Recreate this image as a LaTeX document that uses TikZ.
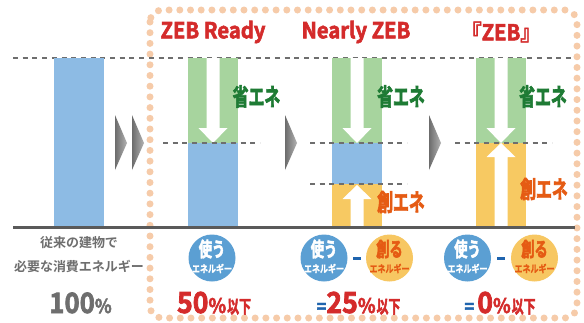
\documentclass[tikz,border=0pt]{standalone}
\usepackage{fontspec}
\newfontfamily\jpb{Noto Sans CJK JP}[UprightFont=* Bold]
\newfontfamily\jph{Noto Sans CJK JP}[UprightFont=* Bold,FakeStretch=0.92,FakeBold=2.5]
\newfontfamily\jpc{Noto Sans CJK JP}[UprightFont=* Bold,FakeStretch=0.8,FakeBold=1.5]
\newfontfamily\jpn{Noto Sans CJK JP}[UprightFont=* Bold,FakeStretch=0.66,FakeBold=2.5]
\usetikzlibrary{calc}
\definecolor{peach}{HTML}{F6CBA9}
\definecolor{dgray}{HTML}{6E6E6E}
\definecolor{lgray}{HTML}{5A5A5A}
\definecolor{zred}{HTML}{D42B2B}
\definecolor{barblue}{HTML}{8DBBE4}
\definecolor{bargreen}{HTML}{A7D49E}
\definecolor{baryellow}{HTML}{F7C962}
\definecolor{cblue}{HTML}{5B9FD3}
\definecolor{cyellow}{HTML}{F7C762}
\definecolor{tgreen}{HTML}{1E7B34}
\definecolor{torange}{HTML}{E55B13}
\definecolor{eqblue}{HTML}{1F64AE}
\begin{document}
\begin{tikzpicture}[x=1pt,y=-1pt,
  dashln/.style={draw=dgray,line width=2.3pt,dash pattern=on 5pt off 4.7pt},
  chev/.style={left color=gray!85!black,right color=gray!60,draw=none},
  title/.style={inner sep=0pt,text=zred,font=\jph\fontsize{22}{22}\selectfont},
  lbl/.style={inner sep=0pt,font=\jpn\fontsize{24}{24}\selectfont},
  circ/.style={circle,inner sep=0pt,minimum size=47pt},
  ctop/.style={inner sep=0pt,font=\jpn\fontsize{20}{20}\selectfont},
  cbot/.style={inner sep=0pt,font=\jpc\fontsize{10}{10}\selectfont},
  pct/.style={inner sep=0pt,anchor=base},
  wline/.style={fill=white,draw=none}]
\useasboundingbox (0,0) rectangle (584,322);
\fill[white] (0,0) rectangle (584,322);
% dotted frame
\draw[peach,line width=7pt,line cap=round,dash pattern=on 0pt off 10.7pt,rounded corners=12pt] (150,10) rectangle (577,318);
% top dashed line
\draw[dashln] (13,58) -- (573,58);
% bars
\fill[barblue] (54,58) rectangle (104,227);
\fill[bargreen] (188,58) rectangle (238,143);
\fill[barblue] (188,143) rectangle (238,227);
\fill[bargreen] (332,58) rectangle (382,143);
\fill[barblue] (332,143) rectangle (382,184);
\fill[baryellow] (332,184) rectangle (382,227);
\fill[bargreen] (476,58) rectangle (526,143);
\fill[baryellow] (476,143) rectangle (526,227);
% white arrows
\foreach \c in {213,357,501}{
  \fill[wline] (\c-6.5,58) -- (\c+6.5,58) -- (\c+6.5,128) -- (\c+14.5,128) -- (\c,143) -- (\c-14.5,128) -- (\c-6.5,128) -- cycle;}
\fill[wline] (357-6.5,227) -- (357+6.5,227) -- (357+6.5,199) -- (357+14.5,199) -- (357,185) -- (357-14.5,199) -- (357-6.5,199) -- cycle;
\fill[wline] (501-6.5,227) -- (501+6.5,227) -- (501+6.5,157) -- (501+14.5,157) -- (501,143) -- (501-14.5,157) -- (501-6.5,157) -- cycle;
% middle dashed lines
\draw[dashln] (163,143) -- (260,143);
\draw[dashln] (310,143) -- (407,143);
\draw[dashln] (310,184) -- (407,184);
\draw[dashln] (455,143) -- (552,143);
% baseline
\draw[lgray,line width=3pt] (13,227) -- (575,227);
% chevrons
\shade[chev] (115,115) -- (127,143) -- (115,170) -- cycle;
\shade[chev] (132,115) -- (144,143) -- (132,170) -- cycle;
\shade[chev] (285,115) -- (297,143) -- (285,170) -- cycle;
\shade[chev] (429,115) -- (441,143) -- (429,170) -- cycle;
% titles
\node[title] (t1) at (213,32) {ZEB Ready};
\node[title] (t2) at (356,32) {Nearly ZEB};
\node[title] (t3) at (501,32) {『ZEB』};
% labels
\node[lbl,text=tgreen] (s1) at (256.5,96.5) {省エネ};
\node[lbl,text=tgreen] (s2) at (401,96.5) {省エネ};
\node[lbl,text=tgreen] (s3) at (543,96.5) {省エネ};
\node[lbl,text=torange] (k1) at (401,202) {創エネ};
\node[lbl,text=torange] (k2) at (544,189) {創エネ};
% left text
\node[inner sep=0pt,text=dgray,font=\jpb\fontsize{13}{13}\selectfont] (l1) at (79,243) {従来の建物で};
\node[inner sep=0pt,text=dgray,font=\jpb\fontsize{13}{13}\selectfont] (l2) at (79,266) {必要な消費エネルギー};
% circles
\node[circ,fill=cblue] (c1) at (212,258) {};
\node[circ,fill=cblue] (c2) at (324,258) {};
\node[circ,fill=cyellow] (c3) at (389.5,258) {};
\node[circ,fill=cblue] (c4) at (467.5,258) {};
\node[circ,fill=cyellow] (c5) at (534.5,258) {};
\foreach \n in {c1,c2,c4}{
  \node[ctop,text=white] at ($(\n)+(0,-9)$) {使う};
  \node[cbot,text=white] at ($(\n)+(0,10.5)$) {エネルギー};}
\foreach \n in {c3,c5}{
  \node[ctop,text=torange] at ($(\n)+(0,-9)$) {創る};
  \node[cbot,text=torange] at ($(\n)+(0,10.5)$) {エネルギー};}
\node[fill=eqblue,inner sep=0pt,minimum width=8pt,minimum height=3pt] (m1) at ($(c2)!0.5!(c3)$) {};
\node[fill=eqblue,inner sep=0pt,minimum width=8pt,minimum height=3pt] (m2) at ($(c4)!0.5!(c5)$) {};
% percentages
\node[pct,text=dgray] (p0) at (80.5,313) {\jph\fontsize{28}{28}\selectfont 100\fontsize{19}{19}\selectfont\%};
\node[pct,text=zred] (p1) at (214,313) {\jph\fontsize{29}{29}\selectfont 50\fontsize{20}{20}\selectfont\%\hspace{1pt}\jpn\fontsize{18}{18}\selectfont 以下};
\node[pct,text=zred] (p2) at (358.5,313) {\jph\fontsize{18}{18}\selectfont\textcolor{eqblue}{=}\fontsize{29}{29}\selectfont 25\fontsize{20}{20}\selectfont\%\hspace{1pt}\jpn\fontsize{18}{18}\selectfont 以下};
\node[pct,text=zred] (p3) at (500,313) {\jph\fontsize{18}{18}\selectfont\textcolor{eqblue}{=}\hspace{3pt}\fontsize{29}{29}\selectfont 0\fontsize{20}{20}\selectfont\%\hspace{1pt}\jpn\fontsize{18}{18}\selectfont 以下};
\end{tikzpicture}
\end{document}
